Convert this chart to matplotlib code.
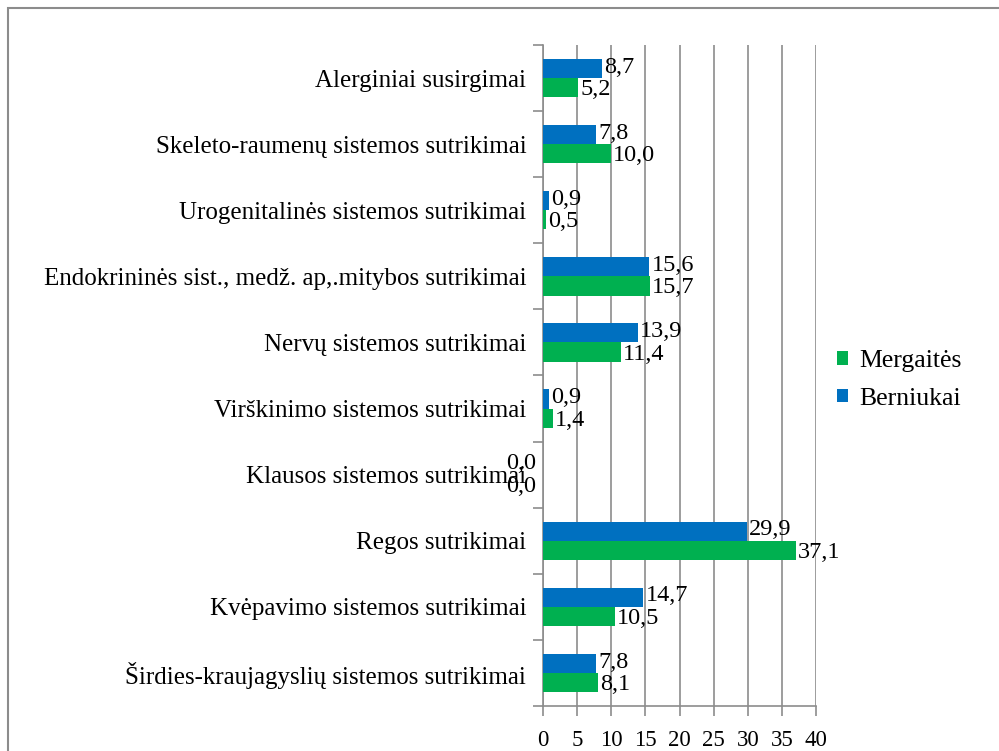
import matplotlib.pyplot as plt
import matplotlib.patches as patches
import numpy as np

plt.rcParams['font.family'] = ['Liberation Serif', 'DejaVu Serif']

# categories listed bottom to top
categories = [
    "Širdies-kraujagyslių sistemos sutrikimai",
    "Kvėpavimo sistemos sutrikimai",
    "Regos sutrikimai",
    "Klausos sistemos sutrikimai",
    "Virškinimo sistemos sutrikimai",
    "Nervų sistemos sutrikimai",
    "Endokrininės sist., medž. ap,.mitybos sutrikimai",
    "Urogenitalinės sistemos sutrikimai",
    "Skeleto-raumenų sistemos sutrikimai",
    "Alerginiai susirgimai",
]
mergaites = [8.1, 10.5, 37.1, 0.0, 1.4, 11.4, 15.7, 0.5, 10.0, 5.2]
berniukai = [7.8, 14.7, 29.9, 0.0, 0.9, 13.9, 15.6, 0.9, 7.8, 8.7]
xticks = [0, 5, 10, 15, 20, 25, 30, 35, 40]

green = "#00B050"
blue = "#0070C0"
grid_col = "#8c8c8c"


def fmt(v):
    return ("%.1f" % v).replace(".", ",")


fig = plt.figure(figsize=(9.99, 7.51), dpi=100)
ax = fig.add_axes([543 / 999, 1 - 706 / 751, (816 - 543) / 999, (706 - 45) / 751])

y = np.arange(len(categories))
h = 0.29
ax.barh(y - h / 2, mergaites, height=h, color=green, label="Mergaitės", zorder=3)
ax.barh(y + h / 2, berniukai, height=h, color=blue, label="Berniukai", zorder=3)

for i in range(len(categories)):
    for val, yy, dy in [(berniukai[i], y[i] + h / 2, 0.02), (mergaites[i], y[i] - h / 2, -0.03)]:
        if val == 0:
            ax.annotate(fmt(val), (0, yy + dy), xytext=(-5, 0), textcoords="offset points",
                        ha="right", va="center", fontsize=17.5, zorder=4)
        else:
            ax.annotate(fmt(val), (val, yy + dy), xytext=(1.5, 0), textcoords="offset points",
                        ha="left", va="center", fontsize=17.5, zorder=4)

ax.set_xlim(0, 40)
ax.set_ylim(-0.5, len(categories) - 0.5)
ax.set_xticks(xticks)
ax.set_xticklabels([str(t) for t in xticks], fontsize=16.5)
ax.set_yticks(y)
ax.set_yticklabels(categories, fontsize=18)
ax.set_yticks(np.arange(-0.5, len(categories)), minor=True)

ax.tick_params(axis="y", which="major", length=0, pad=12)
ax.tick_params(axis="y", which="minor", length=7, color=grid_col, width=1.2)
ax.tick_params(axis="x", length=7, color=grid_col, width=1.2, pad=10)

ax.xaxis.grid(True, color=grid_col, linewidth=1.2, zorder=0)
ax.set_axisbelow(True)
for s in ["top", "right"]:
    ax.spines[s].set_visible(False)
for s in ["left", "bottom"]:
    ax.spines[s].set_color(grid_col)
    ax.spines[s].set_linewidth(1.2)

handles, labels = ax.get_legend_handles_labels()
fig.legend(handles, labels, loc="center left", bbox_to_anchor=(814 / 999, 1 - 380 / 751),
           frameon=False, fontsize=18.5, handlelength=0.42, handleheight=0.42,
           handletextpad=0.45, labelspacing=0.62)

# outer chart border (cropped at right and bottom)
fig.patches.append(patches.Rectangle((8 / 999, -0.1), 1.1, 1 - 8 / 751 + 0.1,
                                     transform=fig.transFigure, fill=False,
                                     edgecolor="#8c8c8c", linewidth=1.5))

fig.savefig("out.png", dpi=100)
